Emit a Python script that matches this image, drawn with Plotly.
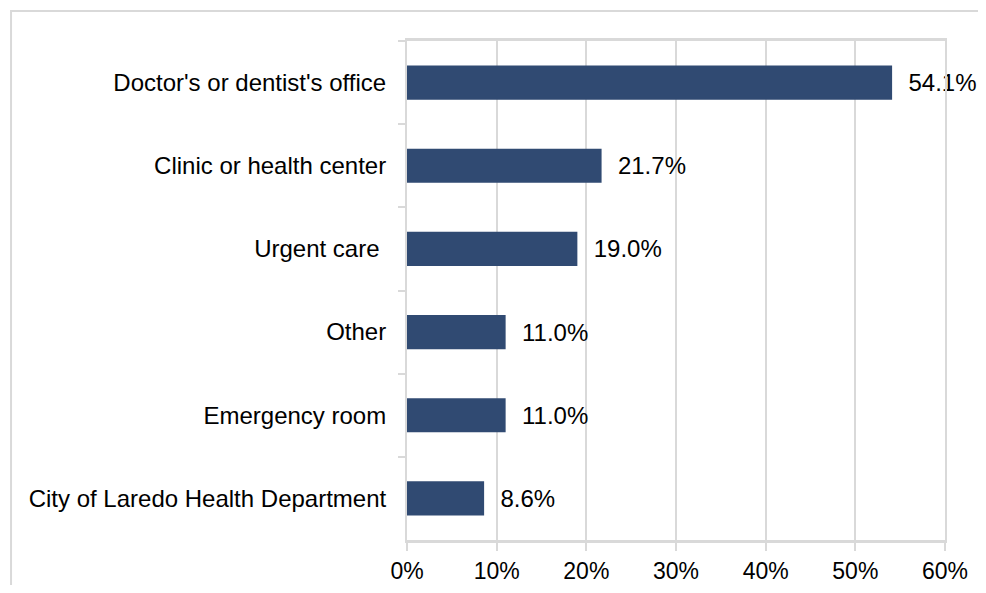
import plotly.graph_objects as go

categories = ["Doctor's or dentist's office", "Clinic or health center", "Urgent care ",
              "Other", "Emergency room", "City of Laredo Health Department"]
values = [54.1, 21.7, 19.0, 11.0, 11.0, 8.6]
tick_vals = [0, 10, 20, 30, 40, 50, 60]
tick_text = ["0%", "10%", "20%", "30%", "40%", "50%", "60%"]

FONT = "Liberation Sans, Arial, sans-serif"
GRID = "#d9d9d9"

fig = go.Figure()
fig.add_trace(go.Bar(
    x=values, y=categories, orientation="h",
    marker=dict(color="#304A72", line=dict(width=0)),
    text=[f"{v:.1f}%" for v in values],
    texttemplate="  %{text}",
    textposition="outside",
    textfont=dict(family=FONT, size=24, color="#000000"),
    cliponaxis=False,
))

fig.update_layout(
    width=970, height=577,
    margin=dict(l=399, r=33, t=33, b=45, autoexpand=False),
    paper_bgcolor="white", plot_bgcolor="white",
    bargap=0.59,
    showlegend=False,
    font=dict(family=FONT, size=23, color="#000000"),
    shapes=[dict(type="rect", xref="paper", yref="paper",
                 x0=-0.736, x1=1.2, y0=-0.3, y1=1.06,
                 line=dict(color=GRID, width=2), layer="below")],
)
fig.update_xaxes(
    range=[0, 60], tickvals=tick_vals, ticktext=tick_text,
    showgrid=True, gridcolor=GRID, gridwidth=2,
    showline=True, linecolor=GRID, linewidth=3, mirror=True,
    ticks="outside", ticklen=8, tickcolor=GRID, tickwidth=2,
    tickfont=dict(family=FONT, size=23, color="#000000"),
    zeroline=False, fixedrange=True, automargin=False,
)
fig.update_yaxes(
    autorange="reversed", tickson="boundaries",
    showline=True, linecolor=GRID, linewidth=2, mirror=True,
    ticks="outside", ticklen=7, tickcolor=GRID, tickwidth=2,
    ticklabelstandoff=14,
    tickfont=dict(family=FONT, size=24, color="#000000"),
    showgrid=False, fixedrange=True, automargin=False,
)

fig.write_html("out.html")
